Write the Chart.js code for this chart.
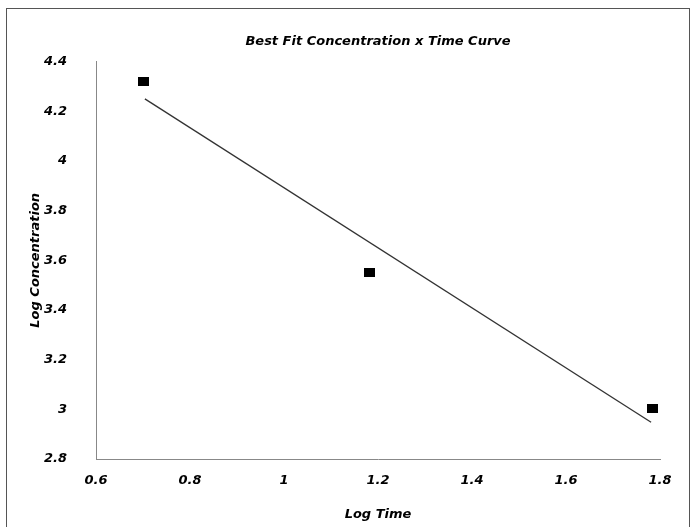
<!DOCTYPE html>
<html>
<head>
<meta charset="utf-8">
<script src="https://cdn.jsdelivr.net/npm/chart.js@4"></script>
<style>
  html, body { margin: 0; padding: 0; background: #fff; }
</style>
</head>
<body>
<canvas id="chart" width="693" height="527"></canvas>
<script>
"use strict";

// measured points
const logTime = [0.702, 1.181, 1.785];
const logConc = [4.32, 3.549, 3.005];

// best fit line
const fitTime = [0.704, 1.781];
const fitConc = [4.25, 2.948];

const xTicks = [0.6, 0.8, 1, 1.2, 1.4, 1.6, 1.8];
const yTicks = [2.8, 3, 3.2, 3.4, 3.6, 3.8, 4, 4.2, 4.4];

const font = { family: "'DejaVu Sans', sans-serif", size: 13, weight: "bold", style: "italic" };

// marker is a little wider than tall in the original
const marker = document.createElement("canvas");
marker.width = 11;
marker.height = 9;
const mctx = marker.getContext("2d");
mctx.fillStyle = "#000";
mctx.fillRect(0, 0, 11, 9);

// white page with a thin frame like the scanned original
const framePlugin = {
  id: "frame",
  beforeDraw(chart) {
    const ctx = chart.ctx;
    ctx.save();
    ctx.fillStyle = "#fff";
    ctx.fillRect(0, 0, chart.width, chart.height);
    ctx.strokeStyle = "#555";
    ctx.lineWidth = 1;
    ctx.strokeRect(6.5, 8.5, 683, 530);
    ctx.restore();
  },
};

new Chart(document.getElementById("chart"), {
  type: "scatter",
  data: {
    datasets: [
      {
        label: "data",
        data: logTime.map((x, i) => ({ x: x, y: logConc[i] })),
        pointStyle: marker,
        pointRadius: 6,
        backgroundColor: "#000",
        borderColor: "#000",
      },
      {
        label: "fit",
        type: "line",
        data: fitTime.map((x, i) => ({ x: x, y: fitConc[i] })),
        borderColor: "#333",
        borderWidth: 1.3,
        pointRadius: 0,
        fill: false,
      },
    ],
  },
  options: {
    responsive: false,
    animation: false,
    devicePixelRatio: 1,
    layout: { padding: { left: 6, right: 33, top: 34, bottom: 0 } },
    plugins: {
      legend: { display: false },
      tooltip: { enabled: false },
      title: {
        display: true,
        text: "Best Fit Concentration x Time Curve",
        fullSize: false,
        color: "#000",
        font: font,
        padding: { top: 0, bottom: 12 },
      },
    },
    scales: {
      x: {
        type: "linear",
        min: 0.6,
        max: 1.8,
        afterBuildTicks: (s) => { s.ticks = xTicks.map((v) => ({ value: v })); },
        afterFit: (s) => { s.height = 68; },
        grid: { display: false, drawTicks: false },
        border: { display: true, color: "#888", width: 1 },
        ticks: {
          autoSkip: false,
          color: "#000",
          font: font,
          padding: 14,
          maxRotation: 0,
          callback: (v) => String(v),
        },
        title: {
          display: true,
          text: "Log Time",
          color: "#000",
          font: font,
          padding: { top: 4, bottom: 5 },
        },
      },
      y: {
        type: "linear",
        min: 2.8,
        max: 4.4,
        afterBuildTicks: (s) => { s.ticks = yTicks.map((v) => ({ value: v })); },
        afterFit: (s) => { s.width = 90; },
        grid: { display: false, drawTicks: false },
        border: { display: true, color: "#888", width: 1 },
        ticks: {
          autoSkip: false,
          color: "#000",
          font: font,
          padding: 29,
          callback: (v) => String(v),
        },
        title: {
          display: true,
          text: "Log Concentration",
          color: "#000",
          font: font,
          padding: { top: 22, bottom: 22 },
        },
      },
    },
  },
  plugins: [framePlugin],
});
</script>
</body>
</html>
